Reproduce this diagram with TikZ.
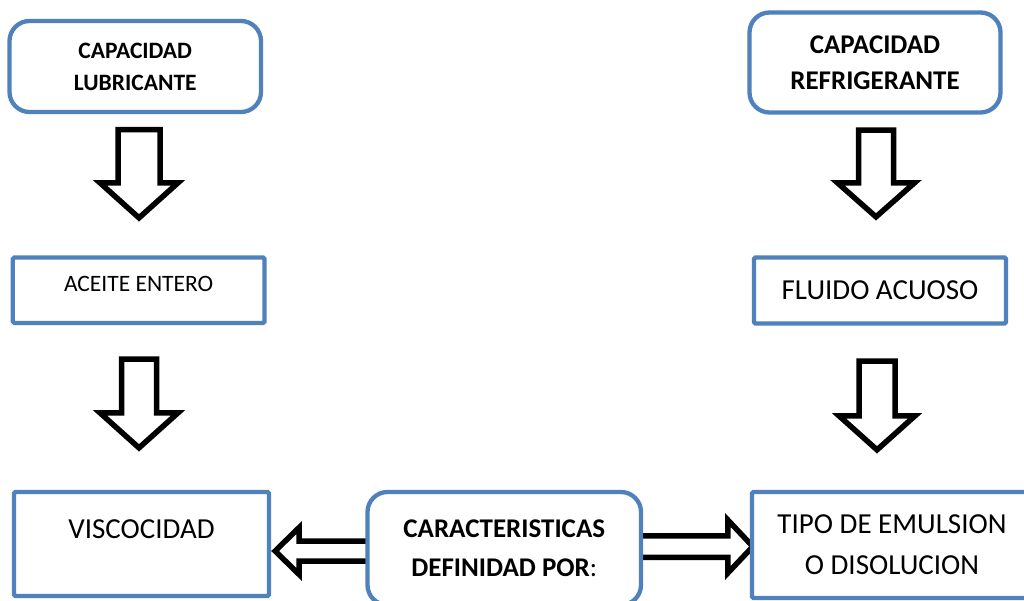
\documentclass[tikz,border=0pt]{standalone}
\usepackage{fontspec}
\setmainfont{Carlito}
\usetikzlibrary{calc}
\definecolor{boxblue}{HTML}{4F81BD}
\pgfdeclarelayer{background}
\pgfsetlayers{background,main}

\tikzset{
  box/.style={draw=boxblue, line width=4.3pt, fill=white, align=center, inner sep=0pt},
  roundbox/.style={box, rounded corners=20pt},
  squarebox/.style={box, rounded corners=1.5pt},
  fatarrow/.style={draw=black, fill=white, line width=5.5pt, line join=miter},
}

% hollow block arrow: tail, tip, shaft half-width, head half-width, head length
\newcommand\hollowarrow[5]{%
  \coordinate (hbase) at ($(#2)!#5!(#1)$);
  \draw[fatarrow] ($(#1)!#3!90:(#2)$) -- ($(hbase)!#3!90:(#2)$)
    -- ($(hbase)!#4!90:(#2)$) -- (#2) -- ($(hbase)!#4!-90:(#2)$)
    -- ($(hbase)!#3!-90:(#2)$) -- ($(#1)!#3!-90:(#2)$) -- cycle;
}

\begin{document}
\begin{tikzpicture}[x=1pt,y=1pt]
\useasboundingbox (0,0) rectangle (1024,600);
\clip (0,0) rectangle (1024,600);

% boxes
\node[roundbox, minimum width=251.5pt, minimum height=91pt,
      font=\fontsize{23.5}{32}\selectfont] (lub) at (135.25,533.5)
  {\textbf{CAPACIDAD}\\\textbf{LUBRICANTE}};
\node[roundbox, minimum width=251pt, minimum height=100pt,
      font=\fontsize{27}{36}\selectfont] (ref) at (875,537.5)
  {\textbf{CAPACIDAD}\\\textbf{REFRIGERANTE}};
\node[squarebox, minimum width=251.7pt, minimum height=65.5pt,
      font=\fontsize{23.5}{30}\selectfont, text height=16pt, text depth=12.9pt] (ace) at (138.65,309.75)
  {ACEITE ENTERO};
\node[squarebox, minimum width=252pt, minimum height=66pt,
      font=\fontsize{29}{36}\selectfont] (flu) at (880,309.5)
  {FLUIDO ACUOSO};
\node[squarebox, minimum width=255pt, minimum height=104pt,
      font=\fontsize{29}{36}\selectfont, text height=20pt, text depth=31.3pt] (vis) at (141.5,56)
  {VISCOCIDAD};
\node[roundbox, minimum width=273.5pt, minimum height=113pt,
      font=\fontsize{27}{39}\selectfont] (car) at (504.25,51.5)
  {\textbf{CARACTERISTICAS}\\\textbf{DEFINIDAD POR}:};
\node[squarebox, minimum width=280pt, minimum height=106pt,
      font=\fontsize{29}{41}\selectfont] (tipo) at (892,55)
  {TIPO DE EMULSION\\O DISOLUCION};

% block arrows between the boxes
\begin{pgfonlayer}{background}
  \coordinate (a1t) at ($(lub.south)+(3.75,-15.5)$);
  \coordinate (a1h) at ($(a1t |- ace.north)+(0,37.5)$);
  \hollowarrow{a1t}{a1h}{21pt}{39pt}{35pt}

  \coordinate (a2t) at ($(ace.south)+(0.35,-34)$);
  \coordinate (a2h) at ($(a2t |- vis.north)+(0,42)$);
  \hollowarrow{a2t}{a2h}{17.5pt}{39pt}{35pt}

  \coordinate (a3t) at ($(ref.south)+(1,-15.5)$);
  \coordinate (a3h) at ($(a3t |- flu.north)+(0,38.5)$);
  \hollowarrow{a3t}{a3h}{17.5pt}{38.5pt}{34pt}

  \coordinate (a4t) at ($(flu.south)+(-3,-35.5)$);
  \coordinate (a4h) at ($(a4t |- tipo.north)+(0,40)$);
  \hollowarrow{a4t}{a4h}{18pt}{38pt}{34pt}

  \coordinate (a5t) at ($(car.west)+(6,-2.5)$);
  \coordinate (a5h) at ($(vis.east |- a5t)+(4,0)$);
  \hollowarrow{a5t}{a5h}{10pt}{23.5pt}{24pt}

  \coordinate (a6t) at ($(car.east)+(-6,2)$);
  \coordinate (a6h) at ($(tipo.west |- a6t)+(3,0)$);
  \hollowarrow{a6t}{a6h}{10.75pt}{26.5pt}{25pt}
\end{pgfonlayer}
\end{tikzpicture}
\end{document}
